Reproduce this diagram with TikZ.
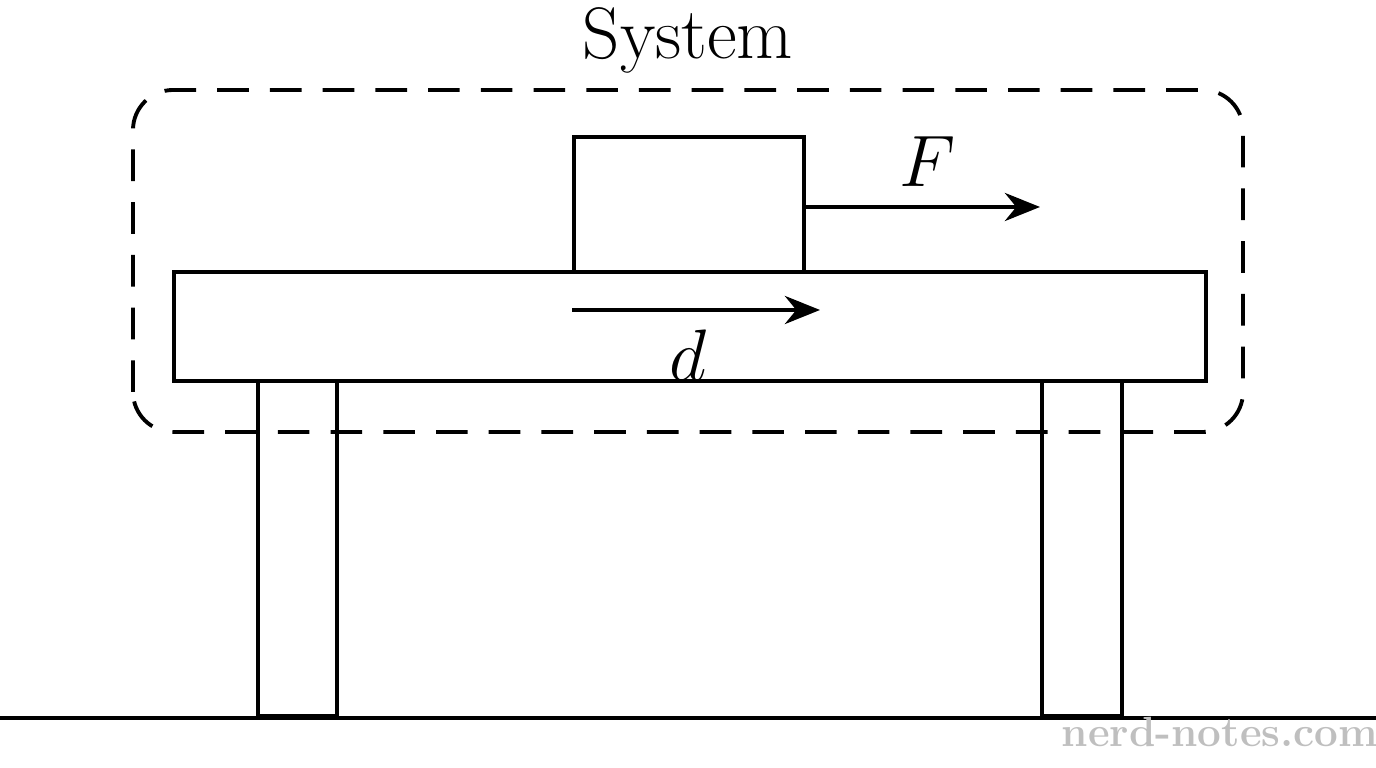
\documentclass[tikz,border=0pt]{standalone}
\usepackage{amsmath}
\usetikzlibrary{arrows.meta,positioning,calc}
\begin{document}
\begin{tikzpicture}[line width=1.1pt,
  box/.style={draw,rectangle,inner sep=0pt,anchor=south west},
  force/.style={-{Stealth[length=10pt,width=8pt]}}]
\useasboundingbox (0,0) rectangle (13.76,7.68);
\draw (0,0.50) -- (13.76,0.50);
\node (leg1) at (2.56,0.50)[box,minimum width=0.79cm,minimum height=3.35cm] {};
\node (leg2) at (10.40,0.50)[box,minimum width=0.80cm,minimum height=3.35cm] {};
\node (top) at (1.72,3.85)[box,fill=white,minimum width=10.32cm,minimum height=1.09cm] {};
\node (blk) at (5.72,4.94)[box,minimum width=2.30cm,minimum height=1.35cm] {};

\coordinate (ftip) at (10.40,5.61);
\draw[force] (blk.east |- ftip) -- node[above=2pt,pos=0.52] {\huge $F$} (ftip);
\coordinate (dstart) at (5.72,4.58);
\coordinate (dtip) at (8.20,4.58);
\draw[force] (dstart) -- (dtip);
\node (dlab) at (6.88,4.13) {\huge $d$};

\draw[dashed,dash pattern=on 9pt off 6pt,rounded corners=0.4cm] (1.33,3.36) rectangle (12.43,6.78);
\node (sys) at (6.88,7.28) {\huge System};
\node (wm) at (12.20,0.36) {\large\bfseries\color{black!25} nerd-notes.com};
\end{tikzpicture}
\end{document}
